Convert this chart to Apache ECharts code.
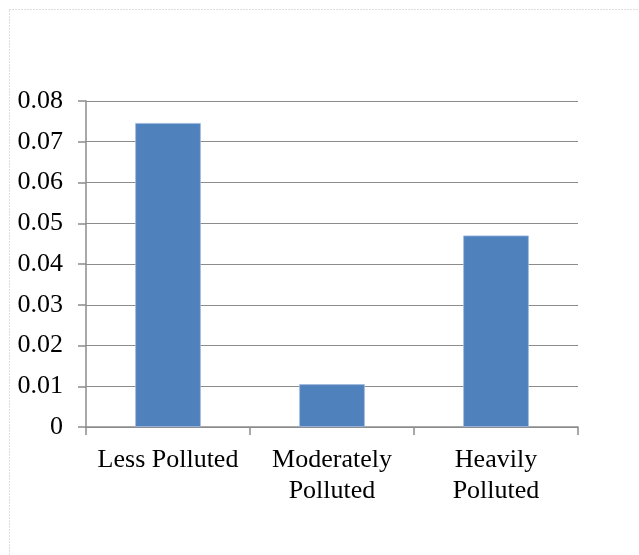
<!DOCTYPE html>
<html>
<head>
<meta charset="utf-8">
<script src="https://cdn.jsdelivr.net/npm/echarts@6/dist/echarts.min.js"></script>
<style>
  html, body { margin: 0; padding: 0; background: #fff; }
  #chart { width: 639px; height: 555px; }
</style>
</head>
<body>
<div id="chart"></div>
<script>
// Pollution categories and their values
const categories = ['Less Polluted', 'Moderately\nPolluted', 'Heavily\nPolluted'];
const values = [0.0746, 0.0105, 0.047];
const yTicks = { min: 0, max: 0.08, interval: 0.01 };

const axisGray = '#8c8c8c';
const font = 'Liberation Serif';

const chart = echarts.init(document.getElementById('chart'), null, { renderer: 'canvas' });
chart.setOption({
  animation: false,
  backgroundColor: '#ffffff',
  graphic: [{
    type: 'rect',
    shape: { x: 9.5, y: 9.5, width: 800, height: 800 },
    style: { fill: 'none', stroke: '#bdbdbd', lineWidth: 1, lineDash: [1, 2] },
    silent: true,
    z: -1
  }],
  grid: { left: 86, right: 61, top: 101, bottom: 128, containLabel: false },
  xAxis: {
    type: 'category',
    data: categories,
    boundaryGap: true,
    axisLine: { lineStyle: { color: axisGray, width: 1.5 } },
    axisTick: { show: true, alignWithLabel: false, length: 8, lineStyle: { color: axisGray, width: 1.5 } },
    axisLabel: {
      color: '#000', fontFamily: font, fontSize: 26, lineHeight: 31,
      margin: 18, interval: 0, align: 'center'
    },
    splitLine: { show: false }
  },
  yAxis: {
    type: 'value',
    min: yTicks.min, max: yTicks.max, interval: yTicks.interval,
    axisLine: { show: true, lineStyle: { color: axisGray, width: 1.5 } },
    axisTick: { show: true, length: 8, lineStyle: { color: axisGray, width: 1.5 } },
    axisLabel: {
      color: '#000', fontFamily: font, fontSize: 26, margin: 23,
      formatter: v => (v === 0 ? '0' : v.toFixed(2))
    },
    splitLine: { show: true, lineStyle: { color: axisGray, width: 1.2 } }
  },
  series: [{
    type: 'bar',
    data: values,
    barWidth: '40%',
    itemStyle: { color: '#4F81BD', borderColor: '#9fb9dd', borderWidth: 0.8 }
  }]
});
</script>
</body>
</html>
